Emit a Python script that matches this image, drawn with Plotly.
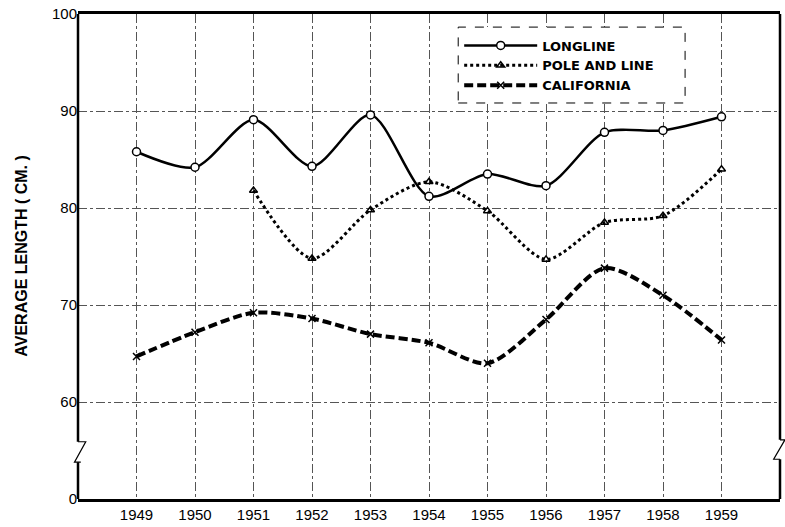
import plotly.graph_objects as go

years = [1949, 1950, 1951, 1952, 1953, 1954, 1955, 1956, 1957, 1958, 1959]
longline = [85.8, 84.2, 89.1, 84.3, 89.6, 81.2, 83.5, 82.3, 87.8, 88.0, 89.4]
pole_and_line = [None, None, 81.8, 74.8, 79.8, 82.7, 79.7, 74.7, 78.5, 79.2, 84.0]
california = [64.7, 67.2, 69.2, 68.6, 67.0, 66.1, 64.0, 68.5, 73.8, 71.0, 66.4]

y_tickvals = [50, 60, 70, 80, 90, 100]
y_ticktext = ["0", "60", "70", "80", "90", "100"]

FONT = "Liberation Sans"

fig = go.Figure()
fig.add_trace(go.Scatter(
    x=years, y=longline, name="LONGLINE", mode="lines+markers",
    line=dict(color="black", width=2.5, shape="spline", smoothing=0.8),
    marker=dict(symbol="circle", size=8, color="white", line=dict(color="black", width=1.5)),
))
fig.add_trace(go.Scatter(
    x=years, y=pole_and_line, name="POLE AND LINE", mode="lines+markers",
    line=dict(color="black", width=3, dash="dot", shape="spline", smoothing=0.8),
    marker=dict(symbol="triangle-up-open", size=7, color="black", line=dict(width=1.5)),
    connectgaps=False,
))
fig.add_trace(go.Scatter(
    x=years, y=california, name="CALIFORNIA", mode="lines+markers",
    line=dict(color="black", width=4, dash="9px,4px", shape="spline", smoothing=0.8),
    marker=dict(symbol="x-thin-open", size=7, color="black", line=dict(width=1.5)),
))

shapes = []
# left axis with break
shapes.append(dict(type="path", xref="paper", yref="y",
                   path="M 0,100 L 0,55.9 M 0,53.8 L 0,50",
                   line=dict(color="black", width=2.5), layer="above"))
shapes.append(dict(type="path", xref="paper", yref="y",
                   path="M 0,55.9 L 0.011,55.9 L -0.005,53.8 L 0.004,53.8",
                   line=dict(color="black", width=1.2), layer="above"))
# right axis with break
shapes.append(dict(type="path", xref="paper", yref="y",
                   path="M 1,100 L 1,56.1 M 1,54.1 L 1,50",
                   line=dict(color="black", width=2.5), layer="above"))
shapes.append(dict(type="path", xref="paper", yref="y",
                   path="M 1,56.1 L 1.007,56.1 L 0.991,54.1 L 1,54.1",
                   line=dict(color="black", width=1.2), layer="above"))
# legend box (dashed)
shapes.append(dict(type="rect", xref="paper", yref="paper",
                   x0=0.5416, x1=0.8648, y0=0.8165, y1=0.973,
                   fillcolor="white", line=dict(color="black", width=1, dash="dash"),
                   layer="above"))

fig.update_layout(
    width=785, height=527,
    margin=dict(l=78, r=5, t=14, b=28),
    paper_bgcolor="white", plot_bgcolor="white",
    font=dict(family=FONT, color="black", size=15),
    showlegend=True,
    legend=dict(x=0.543, y=0.966, xanchor="left", yanchor="top",
                bgcolor="rgba(0,0,0,0)", borderwidth=0,
                font=dict(family="DejaVu Sans", size=13, weight="bold"),
                itemwidth=73, tracegroupgap=0),
    shapes=shapes,
    annotations=[dict(text="<b>AVERAGE LENGTH ( CM. )</b>", xref="paper", yref="paper",
                      x=-0.081, y=0.5, xanchor="center", yanchor="middle",
                      textangle=-90, showarrow=False,
                      font=dict(family=FONT, size=16, color="black"))],
)
fig.update_xaxes(range=[1948, 1960], tickvals=years, ticktext=[str(y) for y in years],
                 showgrid=True, gridcolor="#555", gridwidth=0.7, griddash="dashdot",
                 showline=True, mirror=True, linecolor="black", linewidth=2.5,
                 ticks="", zeroline=False, tickfont=dict(size=15))
fig.update_yaxes(range=[50, 100], tickvals=y_tickvals, ticktext=y_ticktext,
                 showgrid=True, gridcolor="#555", gridwidth=0.7, griddash="dashdot",
                 showline=False, ticks="", zeroline=False, tickfont=dict(size=15))

fig.write_html("out.html", config={"displayModeBar": False},
               post_script="document.body.style.margin='0';document.body.style.overflow='hidden';")
